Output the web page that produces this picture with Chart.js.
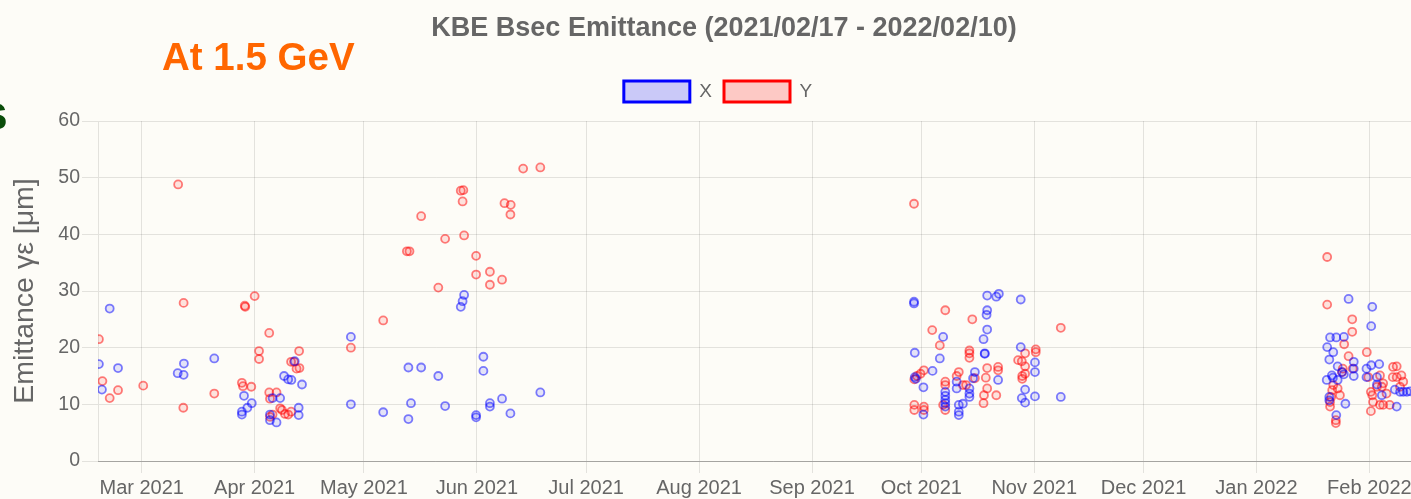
<!DOCTYPE html>
<html><head><meta charset="utf-8">
<script src="https://cdn.jsdelivr.net/npm/chart.js@4.4.1/dist/chart.umd.min.js"></script>
<style>
html,body{margin:0;padding:0;background:#fdfcf7;overflow:hidden;width:1411px;height:499px;}
#wrap{position:absolute;left:0;top:0;width:1458px;height:499px;}
.ov{position:absolute;font-family:'Liberation Sans',Arial,sans-serif;font-weight:bold;white-space:nowrap;}
</style></head><body>
<div id="wrap"><canvas id="c" width="1458" height="499"></canvas></div>
<div class="ov" style="left:162px;top:38px;font-size:38.5px;line-height:38px;color:#ff6600">At 1.5 GeV</div>
<div class="ov" style="left:-20px;top:88px;font-size:50px;line-height:50px;color:#0a4d0a">s</div>
<script>
const chartTitle = 'KBE Bsec Emittance (2021/02/17 - 2022/02/10)';
const yAxisTitle = 'Emittance γε [μm]';
const seriesNames = ['X', 'Y'];

const xDates = [
'2021-02-17 06','2021-02-18 02','2021-02-20 05','2021-02-22 12','2021-03-10 21','2021-03-12 12','2021-03-12 14','2021-03-20 22',
'2021-03-28 12','2021-03-28 12','2021-03-29 02','2021-03-30 00','2021-03-31 05','2021-04-05 05','2021-04-05 05','2021-04-05 22',
'2021-04-07 00','2021-04-08 00','2021-04-09 02','2021-04-10 05','2021-04-11 02','2021-04-12 00','2021-04-13 02','2021-04-13 02',
'2021-04-14 00','2021-04-27 10','2021-04-27 10','2021-05-06 07','2021-05-13 05','2021-05-13 05','2021-05-13 22','2021-05-16 17',
'2021-05-21 10','2021-05-23 07','2021-05-27 14','2021-05-28 02','2021-05-28 12','2021-05-31 19','2021-05-31 19','2021-06-02 19',
'2021-06-02 19','2021-06-04 14','2021-06-04 14','2021-06-07 22','2021-06-10 05','2021-06-18 10',
'2021-09-29 00','2021-09-29 00','2021-09-29 05','2021-09-29 05','2021-09-29 12','2021-10-01 14','2021-10-01 14','2021-10-04 02',
'2021-10-06 02','2021-10-07 00','2021-10-07 14','2021-10-07 14','2021-10-07 14','2021-10-07 14','2021-10-07 14','2021-10-10 17',
'2021-10-10 17','2021-10-11 07','2021-10-11 07','2021-10-11 07','2021-10-12 10','2021-10-14 05','2021-10-14 05','2021-10-14 05',
'2021-10-15 17','2021-10-15 05','2021-10-18 02','2021-10-18 10','2021-10-18 10','2021-10-18 22','2021-10-19 02','2021-10-19 02',
'2021-10-19 02','2021-10-21 14','2021-10-22 07','2021-10-22 02','2021-10-28 07','2021-10-28 07','2021-10-29 12','2021-10-28 14',
'2021-10-29 12','2021-11-01 05','2021-11-01 05','2021-11-01 05','2021-11-08 07',
'2022-01-20 07','2022-01-20 10','2022-01-21 00','2022-01-21 00','2022-01-21 00','2022-01-21 05','2022-01-21 17','2022-01-22 00',
'2022-01-22 02','2022-01-22 22','2022-01-22 22','2022-01-23 07','2022-01-23 07','2022-01-24 12','2022-01-25 00','2022-01-25 00',
'2022-01-25 10','2022-01-26 07','2022-01-27 17','2022-01-27 17','2022-01-27 17','2022-01-31 05','2022-01-31 05','2022-02-01 12',
'2022-02-01 12','2022-02-01 19','2022-02-03 02','2022-02-03 02','2022-02-03 17','2022-02-04 10','2022-02-08 00','2022-02-08 12',
'2022-02-09 10','2022-02-10 07','2022-02-11 07','2022-02-12 05'
];
const xValues = [
17.1,12.6,26.9,16.4,15.5,15.2,17.2,18.1,
8.7,8.2,11.5,9.4,10.2,8.2,7.2,11.1,
6.8,11.1,15.0,14.4,14.3,17.6,9.4,8.1,
13.5,21.9,10.0,8.6,16.5,7.4,10.2,16.5,
15.0,9.7,27.2,28.2,29.3,8.1,7.7,18.4,
15.9,10.2,9.6,11.0,8.4,12.1,
27.8,28.1,19.1,14.8,14.5,13.0,8.2,15.9,
18.1,21.9,12.2,11.5,10.8,10.2,9.6,14.0,
12.8,9.9,8.7,8.1,10.1,12.8,11.9,11.3,
15.7,14.6,21.5,19.0,18.9,25.8,29.2,26.6,
23.2,29.0,29.5,14.3,28.5,20.1,12.6,11.1,
10.3,17.4,15.7,11.4,11.3,
14.3,20.1,17.9,10.7,11.3,21.8,15.1,14.7,
19.2,21.8,8.1,16.7,14.3,15.7,21.9,15.3,
10.1,28.6,17.5,16.3,15.0,16.3,14.8,16.9,
23.8,27.2,14.8,13.5,17.1,11.6,12.6,9.6,
12.2,12.2,12.2,12.3
];

const yDates = [
'2021-02-17 06','2021-02-18 05','2021-02-20 05','2021-02-22 12','2021-03-01 10','2021-03-11 00','2021-03-12 12','2021-03-12 10',
'2021-03-20 22','2021-03-28 12','2021-03-28 19','2021-03-29 07','2021-03-29 10','2021-03-31 02','2021-04-01 00','2021-04-02 05',
'2021-04-02 05','2021-04-05 00','2021-04-05 00','2021-04-05 05','2021-04-07 00','2021-04-08 00','2021-04-08 12','2021-04-05 05',
'2021-04-05 22','2021-04-10 05','2021-04-09 08','2021-04-11 00','2021-04-11 00','2021-04-11 19','2021-04-12 12','2021-04-13 07',
'2021-04-13 05',
'2021-04-27 10','2021-05-06 07','2021-05-12 19','2021-05-13 12','2021-05-16 17','2021-05-21 10','2021-05-23 07','2021-05-27 14',
'2021-05-28 07','2021-05-28 02','2021-05-28 12','2021-05-31 19','2021-05-31 19','2021-06-04 14','2021-06-04 14','2021-06-07 22',
'2021-06-08 14','2021-06-10 07','2021-06-10 05','2021-06-13 17','2021-06-18 10',
'2021-09-29 00','2021-09-29 02','2021-09-29 02','2021-09-29 02','2021-09-29 19','2021-09-30 19','2021-10-01 17','2021-10-01 17',
'2021-10-01 17','2021-10-04 00','2021-10-06 02','2021-10-07 00','2021-10-07 14','2021-10-07 14','2021-10-07 14','2021-10-07 14',
'2021-10-10 17','2021-10-11 07','2021-10-12 10','2021-10-13 07','2021-10-14 05','2021-10-14 05','2021-10-14 05','2021-10-15 00',
'2021-10-15 17','2021-10-18 02','2021-10-18 05','2021-10-18 17','2021-10-19 02','2021-10-19 02','2021-10-21 14','2021-10-22 02',
'2021-10-22 02','2021-10-27 14','2021-10-28 14','2021-10-29 12','2021-10-29 12','2021-10-29 12','2021-10-28 17','2021-10-28 17',
'2021-11-01 10','2021-11-01 10','2021-11-08 07',
'2022-01-20 10','2022-01-20 10','2022-01-21 05','2022-01-21 05','2022-01-21 12','2022-01-21 19','2022-01-22 02','2022-01-22 19',
'2022-01-22 19','2022-01-23 07','2022-01-23 22','2022-01-24 12','2022-01-24 17','2022-01-25 02','2022-01-26 07','2022-01-27 07',
'2022-01-27 07','2022-01-27 10','2022-01-31 07','2022-01-31 17','2022-02-01 10','2022-02-01 10','2022-02-01 19','2022-02-02 00',
'2022-02-03 02','2022-02-03 22','2022-02-03 22','2022-02-04 10','2022-02-04 19','2022-02-04 19','2022-02-05 17','2022-02-06 14',
'2022-02-07 10','2022-02-07 12','2022-02-08 12','2022-02-08 12','2022-02-09 10','2022-02-09 19','2022-02-10 07'
];
const yValues = [
21.5,14.1,11.1,12.5,13.3,48.8,27.9,9.4,
11.9,13.8,13.2,27.4,27.2,13.1,29.1,19.4,
18.0,22.6,12.1,11.0,12.1,9.3,9.0,7.8,
8.2,8.2,8.3,8.7,17.5,17.5,16.3,16.4,
19.4,
20.0,24.8,37.0,37.0,43.2,30.6,39.2,47.7,
47.8,45.8,39.8,36.2,32.9,33.4,31.1,32.0,
45.5,45.2,43.5,51.6,51.8,
45.4,14.4,9.9,9.0,15.0,15.4,16.0,9.6,
9.0,23.1,20.4,9.9,26.6,14.0,13.4,9.0,
15.0,15.7,13.4,13.4,19.5,19.0,18.2,25.0,
14.6,10.2,11.6,14.7,16.4,12.8,11.6,16.6,
16.0,17.8,17.6,19.0,16.7,15.4,15.0,14.5,
19.7,19.2,23.5,
36.0,27.6,10.4,9.6,11.3,12.5,13.4,7.2,
6.7,12.8,11.6,15.7,16.3,20.6,18.5,25.0,
22.8,16.3,19.2,14.8,12.2,8.8,11.6,10.4,
13.1,15.1,9.9,13.1,9.9,13.7,11.9,9.9,
14.8,16.6,16.7,14.8,13.1,15.1,14.0
];

const tickDates = ['2021-03-01','2021-04-01','2021-05-01','2021-06-01','2021-07-01','2021-08-01','2021-09-01','2021-10-01','2021-11-01','2021-12-01','2022-01-01','2022-02-01'];
const tickLabels = ['Mar 2021','Apr 2021','May 2021','Jun 2021','Jul 2021','Aug 2021','Sep 2021','Oct 2021','Nov 2021','Dec 2021','Jan 2022','Feb 2022'];
const axisStart = '2021-02-17 00';
const axisEnd = '2022-02-22 14';

function t(s) {
  const parts = s.split(' ');
  const [Y, M, D] = parts[0].split('-').map(Number);
  return Date.UTC(Y, M - 1, D, parts[1] ? Number(parts[1]) : 0);
}
const toPoints = (dates, vals) => dates.map((d, i) => ({x: t(d), y: vals[i]}));

const FONT = "'Liberation Sans', Arial, Helvetica, sans-serif";
const GREY = '#666';
const legendColors = [
  {fill: 'rgba(0,0,255,0.2)', stroke: 'rgb(0,0,255)'},
  {fill: 'rgba(255,0,0,0.2)', stroke: 'rgb(255,0,0)'}
];

const legendShift = {
  id: 'legendShift',
  afterLayout(chart) {
    if (chart.legend) { chart.legend.left -= 6; chart.legend.right -= 6; }
  }
};

new Chart(document.getElementById('c'), {
  type: 'scatter',
  plugins: [legendShift],
  data: {
    datasets: [
      {label: seriesNames[0], data: toPoints(xDates, xValues), borderColor: 'rgba(0,0,255,0.5)', backgroundColor: 'rgba(0,0,255,0.1)', borderWidth: 1.8, pointRadius: 4},
      {label: seriesNames[1], data: toPoints(yDates, yValues), borderColor: 'rgba(255,0,0,0.5)', backgroundColor: 'rgba(255,0,0,0.1)', borderWidth: 1.8, pointRadius: 4}
    ]
  },
  options: {
    responsive: false,
    animation: false,
    layout: {padding: {left: 0, right: 10, top: 0, bottom: 0}},
    plugins: {
      title: {display: true, text: chartTitle, color: GREY, font: {family: FONT, size: 27, weight: 'bold'}, padding: {top: 12, bottom: 24.6}},
      legend: {
        display: true,
        labels: {
          font: {family: FONT, size: 19}, color: GREY, boxWidth: 66, boxHeight: 21, padding: 12,
          generateLabels: (chart) => chart.data.datasets.map((ds, i) => ({
            text: ds.label, fillStyle: legendColors[i].fill, strokeStyle: legendColors[i].stroke,
            lineWidth: 3, fontColor: GREY, datasetIndex: i, hidden: false
          }))
        }
      },
      tooltip: {enabled: false}
    },
    scales: {
      x: {
        type: 'linear', position: 'bottom',
        min: t(axisStart), max: t(axisEnd),
        afterBuildTicks: (scale) => { scale.ticks = tickDates.map(d => ({value: t(d)})); },
        afterFit: (scale) => { scale.height = 38; },
        ticks: {autoSkip: false, maxRotation: 0, color: GREY, font: {family: FONT, size: 20}, padding: 3,
          callback: (v, i) => tickLabels[i]},
        grid: {color: 'rgba(0,0,0,0.1)', tickLength: 12},
        border: {color: 'rgba(0,0,0,0.28)'}
      },
      xTop: {
        type: 'linear', position: 'top', axis: 'x', display: true,
        grid: {display: false}, border: {display: false}, ticks: {display: false},
        afterFit: (scale) => { scale.height = 9; }
      },
      y: {
        min: 0, max: 60,
        afterFit: (scale) => { scale.width = 98; },
        ticks: {stepSize: 10, color: GREY, font: {family: FONT, size: 19.5}, padding: 2},
        grid: {color: 'rgba(0,0,0,0.1)', tickLength: 16},
        border: {color: 'rgba(0,0,0,0.1)'},
        title: {display: true, text: yAxisTitle, color: GREY, font: {family: FONT, size: 28.5}, padding: {top: 8, bottom: 0}}
      }
    }
  }
});
</script>
</body></html>
